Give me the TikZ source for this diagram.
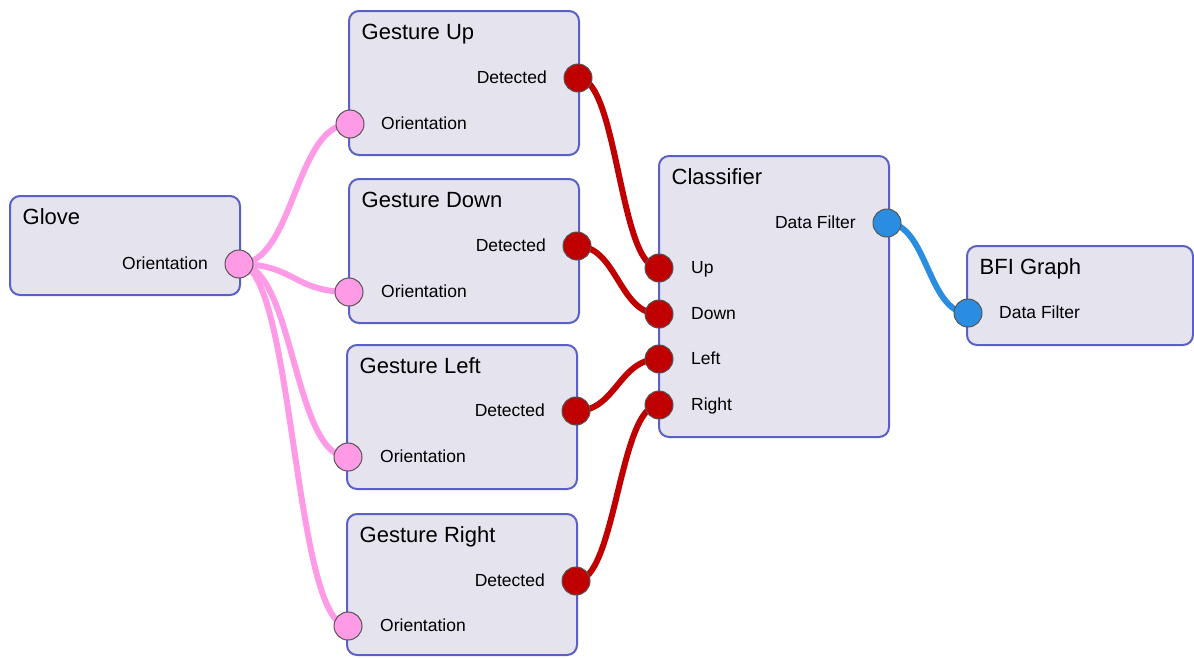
\documentclass[tikz,border=0pt]{standalone}
\usepackage{fontspec}
\setmainfont{Liberation Sans}
\definecolor{boxfill}{HTML}{E4E3EE}
\definecolor{boxline}{HTML}{5A60C8}
\definecolor{portline}{HTML}{555555}
\definecolor{pinkc}{HTML}{FF9BE6}
\definecolor{redc}{HTML}{C00000}
\definecolor{bluec}{HTML}{2A8DE0}
\pgfdeclarelayer{boxes}
\pgfdeclarelayer{wires}
\pgfsetlayers{boxes,wires,main}
\tikzset{
  nodebox/.style={draw=boxline, fill=boxfill, line width=2pt, rounded corners=10pt,
    anchor=north west, inner sep=0pt, outer sep=0pt},
  title/.style={anchor=base west, font=\fontsize{22}{26}\selectfont, inner sep=0pt},
  lbl/.style={font=\fontsize{17.5}{21}\selectfont, inner sep=0pt},
  port/.style={circle, draw=portline, line width=1pt, minimum size=28pt, inner sep=0pt,
    outer sep=0pt, fill=#1},
  wire/.style={line width=6pt, draw=#1},
}
\begin{document}
\begin{tikzpicture}[x=1pt, y=-1pt]
\useasboundingbox (0,0) rectangle (1194,657);

% node bodies
\begin{pgfonlayer}{boxes}
  \node[nodebox, minimum width=230pt, minimum height=99pt]  (glove) at (10,196) {};
  \node[nodebox, minimum width=230pt, minimum height=144pt] (gup)   at (349,11) {};
  \node[nodebox, minimum width=230pt, minimum height=144pt] (gdown) at (349,179) {};
  \node[nodebox, minimum width=230pt, minimum height=144pt] (gleft) at (347,345) {};
  \node[nodebox, minimum width=230pt, minimum height=141pt] (gright) at (347,514) {};
  \node[nodebox, minimum width=230pt, minimum height=281pt] (clf)   at (659,156) {};
  \node[nodebox, minimum width=226pt, minimum height=99pt]  (bfi)   at (967,246) {};
\end{pgfonlayer}

% titles
\path (glove.north west)  ++(12.5,28.5) node[title] {Glove};
\path (gup.north west)    ++(12.5,28.5) node[title] {Gesture Up};
\path (gdown.north west)  ++(12.5,28.5) node[title] {Gesture Down};
\path (gleft.north west)  ++(12.5,28.5) node[title] {Gesture Left};
\path (gright.north west) ++(12.5,28.5) node[title] {Gesture Right};
\path (clf.north west)    ++(12.5,28.5) node[title] {Classifier};
\path (bfi.north west)    ++(12.5,28.5) node[title] {BFI Graph};

% ports
\node[port=pinkc] (glove-o)  at (239,264) {};
\node[port=redc]  (gup-d)    at (578,78) {};
\node[port=pinkc] (gup-o)    at (350,124) {};
\node[port=redc]  (gdown-d)  at (577,246) {};
\node[port=pinkc] (gdown-o)  at (349,292) {};
\node[port=redc]  (gleft-d)  at (576,411) {};
\node[port=pinkc] (gleft-o)  at (348,457) {};
\node[port=redc]  (gright-d) at (576,581) {};
\node[port=pinkc] (gright-o) at (348,626) {};
\node[port=bluec] (clf-df)   at (887,223) {};
\node[port=redc]  (clf-up)   at (659,268) {};
\node[port=redc]  (clf-down) at (659,314) {};
\node[port=redc]  (clf-left) at (659,359) {};
\node[port=redc]  (clf-right) at (659,405) {};
\node[port=bluec] (bfi-df)   at (968,313) {};

% port labels
\path (glove-o)  ++(-31,5) node[lbl, anchor=base east] {Orientation};
\path (gup-d)    ++(-31,5) node[lbl, anchor=base east] {Detected};
\path (gdown-d)  ++(-31,5) node[lbl, anchor=base east] {Detected};
\path (gleft-d)  ++(-31,5) node[lbl, anchor=base east] {Detected};
\path (gright-d) ++(-31,5) node[lbl, anchor=base east] {Detected};
\path (clf-df)   ++(-31,5) node[lbl, anchor=base east] {Data Filter};
\path (gup-o)    ++(31,5) node[lbl, anchor=base west] {Orientation};
\path (gdown-o)  ++(32,5) node[lbl, anchor=base west] {Orientation};
\path (gleft-o)  ++(32,5) node[lbl, anchor=base west] {Orientation};
\path (gright-o) ++(32,5) node[lbl, anchor=base west] {Orientation};
\path (clf-up)   ++(32,5) node[lbl, anchor=base west] {Up};
\path (clf-down) ++(32,5) node[lbl, anchor=base west] {Down};
\path (clf-left) ++(32,5) node[lbl, anchor=base west] {Left};
\path (clf-right) ++(32,5) node[lbl, anchor=base west] {Right};
\path (bfi-df)   ++(31,5) node[lbl, anchor=base west] {Data Filter};

% connections
\begin{pgfonlayer}{wires}
  \draw[wire=pinkc] (glove-o.center) .. controls +(55,0) and +(-55,0) .. (gup-o.center);
  \draw[wire=pinkc] (glove-o.center) .. controls +(55,0) and +(-55,0) .. (gdown-o.center);
  \draw[wire=pinkc] (glove-o.center) .. controls +(55,0) and +(-55,0) .. (gleft-o.center);
  \draw[wire=pinkc] (glove-o.center) .. controls +(55,0) and +(-55,0) .. (gright-o.center);
  \draw[wire=redc] (gup-d.center)    .. controls +(40,0) and +(-40,0) .. (clf-up.center);
  \draw[wire=redc] (gdown-d.center)  .. controls +(40,0) and +(-40,0) .. (clf-down.center);
  \draw[wire=redc] (gleft-d.center)  .. controls +(40,0) and +(-40,0) .. (clf-left.center);
  \draw[wire=redc] (gright-d.center) .. controls +(40,0) and +(-40,0) .. (clf-right.center);
  \draw[wire=bluec] (clf-df.center)  .. controls +(40,0) and +(-40,0) .. (bfi-df.center);
\end{pgfonlayer}
\end{tikzpicture}
\end{document}
